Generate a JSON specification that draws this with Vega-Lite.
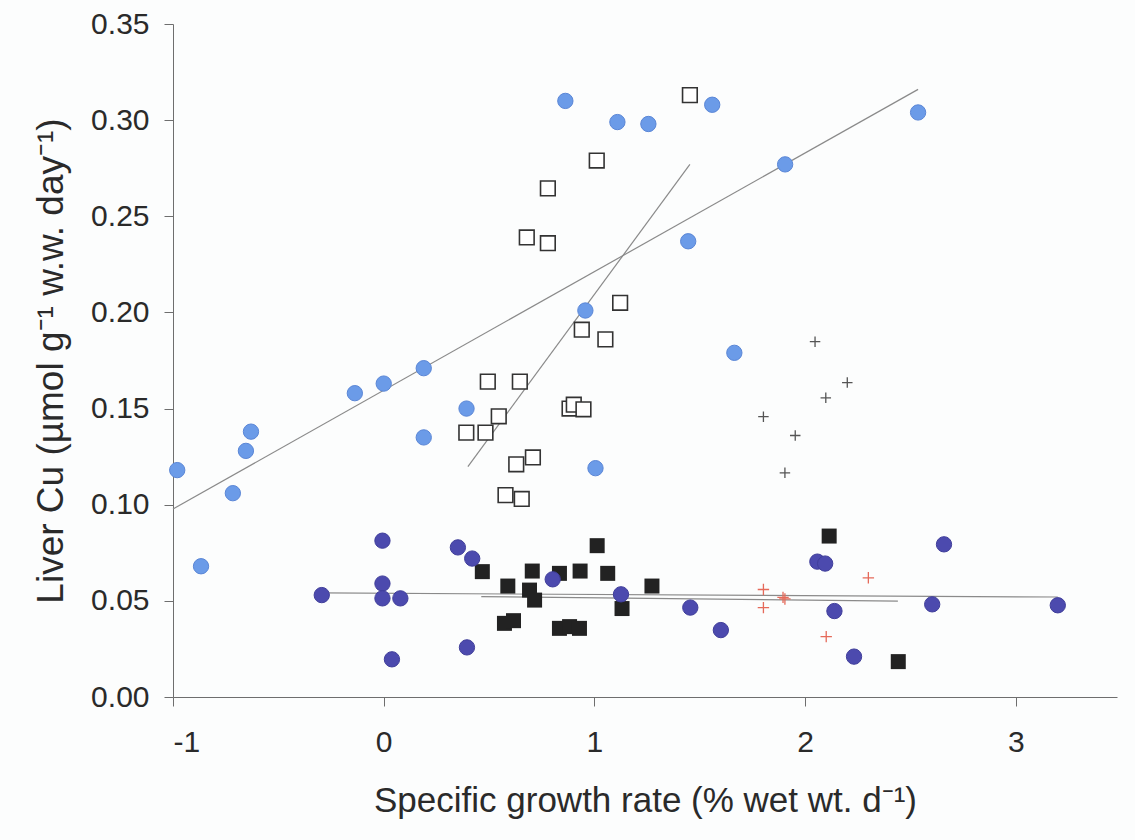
{
  "$schema": "https://vega.github.io/schema/vega-lite/v6.json",
  "width": 944,
  "height": 673,
  "autosize": "none",
  "padding": {"left": 173, "top": 24, "right": 18, "bottom": 143},
  "background": "#fcfdfd",
  "config": {
    "view": {"stroke": null},
    "font": "Liberation Sans",
    "axis": {"grid": false, "domainColor": "#6e6e6e", "tickColor": "#6e6e6e", "labelColor": "#2a2a2a", "titleColor": "#2a2a2a", "labelFont": "Liberation Sans", "titleFont": "Liberation Sans", "titleFontWeight": "normal"}
  },
  "datasets": {
    "pts": [
      {"s": "light", "x": -0.98, "y": 0.118},
      {"s": "light", "x": -0.867, "y": 0.068},
      {"s": "light", "x": -0.716, "y": 0.106},
      {"s": "light", "x": -0.654, "y": 0.128},
      {"s": "light", "x": -0.63, "y": 0.138},
      {"s": "light", "x": -0.137, "y": 0.158},
      {"s": "light", "x": 0.0, "y": 0.163},
      {"s": "light", "x": 0.19, "y": 0.171},
      {"s": "light", "x": 0.19, "y": 0.135},
      {"s": "light", "x": 0.393, "y": 0.150},
      {"s": "light", "x": 0.862, "y": 0.310},
      {"s": "light", "x": 1.109, "y": 0.299},
      {"s": "light", "x": 1.256, "y": 0.298},
      {"s": "light", "x": 1.559, "y": 0.308},
      {"s": "light", "x": 1.445, "y": 0.237},
      {"s": "light", "x": 0.957, "y": 0.201},
      {"s": "light", "x": 1.005, "y": 0.119},
      {"s": "light", "x": 1.664, "y": 0.179},
      {"s": "light", "x": 1.905, "y": 0.277},
      {"s": "light", "x": 2.536, "y": 0.304},
      {"s": "open", "x": 1.453, "y": 0.313},
      {"s": "open", "x": 1.011, "y": 0.279},
      {"s": "open", "x": 0.779, "y": 0.2645},
      {"s": "open", "x": 0.679, "y": 0.239},
      {"s": "open", "x": 0.779, "y": 0.236},
      {"s": "open", "x": 1.122, "y": 0.205},
      {"s": "open", "x": 0.94, "y": 0.191},
      {"s": "open", "x": 1.052, "y": 0.186},
      {"s": "open", "x": 0.494, "y": 0.164},
      {"s": "open", "x": 0.646, "y": 0.164},
      {"s": "open", "x": 0.546, "y": 0.146},
      {"s": "open", "x": 0.882, "y": 0.150},
      {"s": "open", "x": 0.902, "y": 0.152},
      {"s": "open", "x": 0.948, "y": 0.1496},
      {"s": "open", "x": 0.392, "y": 0.1375},
      {"s": "open", "x": 0.483, "y": 0.1375},
      {"s": "open", "x": 0.708, "y": 0.1246},
      {"s": "open", "x": 0.629, "y": 0.121},
      {"s": "open", "x": 0.578, "y": 0.105},
      {"s": "open", "x": 0.655, "y": 0.103},
      {"s": "black", "x": 0.468, "y": 0.0652},
      {"s": "black", "x": 0.589, "y": 0.0577},
      {"s": "black", "x": 0.692, "y": 0.0556},
      {"s": "black", "x": 0.716, "y": 0.0504},
      {"s": "black", "x": 0.573, "y": 0.0383},
      {"s": "black", "x": 0.616, "y": 0.0397},
      {"s": "black", "x": 0.705, "y": 0.0655},
      {"s": "black", "x": 0.834, "y": 0.0643},
      {"s": "black", "x": 0.932, "y": 0.0655},
      {"s": "black", "x": 1.013, "y": 0.0787},
      {"s": "black", "x": 1.063, "y": 0.0643},
      {"s": "black", "x": 0.834, "y": 0.0357},
      {"s": "black", "x": 0.882, "y": 0.0366},
      {"s": "black", "x": 0.929, "y": 0.0357},
      {"s": "black", "x": 1.131, "y": 0.046},
      {"s": "black", "x": 1.273, "y": 0.0577},
      {"s": "black", "x": 2.114, "y": 0.0837},
      {"s": "black", "x": 2.442, "y": 0.0184},
      {"s": "dark", "x": -0.006, "y": 0.0813},
      {"s": "dark", "x": -0.294, "y": 0.053},
      {"s": "dark", "x": -0.006, "y": 0.059},
      {"s": "dark", "x": -0.006, "y": 0.0513},
      {"s": "dark", "x": 0.079, "y": 0.0513},
      {"s": "dark", "x": 0.039, "y": 0.0196},
      {"s": "dark", "x": 0.352, "y": 0.0778},
      {"s": "dark", "x": 0.42, "y": 0.072},
      {"s": "dark", "x": 0.395, "y": 0.0258},
      {"s": "dark", "x": 0.802, "y": 0.0612},
      {"s": "dark", "x": 1.126, "y": 0.0534},
      {"s": "dark", "x": 1.455, "y": 0.0465},
      {"s": "dark", "x": 1.6, "y": 0.0348},
      {"s": "dark", "x": 2.058, "y": 0.0704},
      {"s": "dark", "x": 2.095, "y": 0.0694},
      {"s": "dark", "x": 2.139, "y": 0.0447},
      {"s": "dark", "x": 2.232, "y": 0.021},
      {"s": "dark", "x": 2.659, "y": 0.0794},
      {"s": "dark", "x": 2.603, "y": 0.0482},
      {"s": "dark", "x": 3.199, "y": 0.0477},
      {"s": "gray", "x": 2.047, "y": 0.1848},
      {"s": "gray", "x": 2.2, "y": 0.1635},
      {"s": "gray", "x": 2.098, "y": 0.1556},
      {"s": "gray", "x": 1.802, "y": 0.1458},
      {"s": "gray", "x": 1.953, "y": 0.136},
      {"s": "gray", "x": 1.904, "y": 0.1166},
      {"s": "red", "x": 1.802, "y": 0.0559},
      {"s": "red", "x": 1.802, "y": 0.0465},
      {"s": "red", "x": 1.904, "y": 0.051},
      {"s": "red", "x": 1.895, "y": 0.0518},
      {"s": "red", "x": 2.3, "y": 0.062},
      {"s": "red", "x": 2.1, "y": 0.0314}
    ],
    "fits": [
      {"g": "light", "x": -1.0, "y": 0.0978},
      {"g": "light", "x": 2.536, "y": 0.316},
      {"g": "open", "x": 0.3995, "y": 0.1198},
      {"g": "open", "x": 1.453, "y": 0.277},
      {"g": "dark", "x": -0.294, "y": 0.0541},
      {"g": "dark", "x": 3.199, "y": 0.052},
      {"g": "black", "x": 0.463, "y": 0.0522},
      {"g": "black", "x": 2.44, "y": 0.0499}
    ]
  },
  "encoding": {
    "x": {"field": "x", "type": "quantitative", "scale": {"domain": [-1, 3.48], "nice": false, "zero": false},
      "axis": {"title": "Specific growth rate (% wet wt. d⁻¹)", "values": [-1, 0, 1, 2, 3], "format": "d", "labelExpr": "replace(datum.label, '−', '-')", "labelFontSize": 30, "titleFontSize": 35, "tickSize": 9, "labelPadding": 21, "titlePadding": 26}},
    "y": {"field": "y", "type": "quantitative", "scale": {"domain": [0, 0.35], "nice": false},
      "axis": {"title": "Liver Cu (µmol g⁻¹ w.w. day⁻¹)", "values": [0, 0.05, 0.1, 0.15, 0.2, 0.25, 0.3, 0.35], "format": ".2f", "labelFontSize": 30, "titleFontSize": 37, "tickSize": 9, "labelPadding": 15, "titlePadding": 20}}
  },
  "layer": [
    {"data": {"name": "fits"}, "mark": {"type": "line", "color": "#8a8a8a", "strokeWidth": 1.2}, "encoding": {"detail": {"field": "g"}}},
    {"data": {"name": "pts"}, "transform": [{"filter": "datum.s === 'light'"}], "mark": {"type": "point", "shape": "circle", "filled": true, "size": 235, "fill": "#6b9be8", "stroke": "#5a86d6", "strokeWidth": 1, "opacity": 1}},
    {"data": {"name": "pts"}, "transform": [{"filter": "datum.s === 'open'"}], "mark": {"type": "point", "shape": "square", "size": 215, "filled": false, "fill": "#ffffff", "fillOpacity": 1, "stroke": "#333333", "strokeWidth": 1.6, "opacity": 1}},
    {"data": {"name": "pts"}, "transform": [{"filter": "datum.s === 'black'"}], "mark": {"type": "point", "shape": "square", "filled": true, "size": 225, "fill": "#222222", "opacity": 1}},
    {"data": {"name": "pts"}, "transform": [{"filter": "datum.s === 'dark'"}], "mark": {"type": "point", "shape": "circle", "filled": true, "size": 235, "fill": "#4c4aae", "stroke": "#403e9a", "strokeWidth": 1, "opacity": 1}},
    {"data": {"name": "pts"}, "transform": [{"filter": "datum.s === 'gray'"}], "mark": {"type": "point", "shape": "M-1,0L1,0M0,-1L0,1", "filled": false, "size": 110, "stroke": "#555555", "strokeWidth": 1.3, "opacity": 1}},
    {"data": {"name": "pts"}, "transform": [{"filter": "datum.s === 'red'"}], "mark": {"type": "point", "shape": "M-1,0L1,0M0,-1L0,1", "filled": false, "size": 130, "stroke": "#e56a5a", "strokeWidth": 1.3, "opacity": 1}}
  ]
}
